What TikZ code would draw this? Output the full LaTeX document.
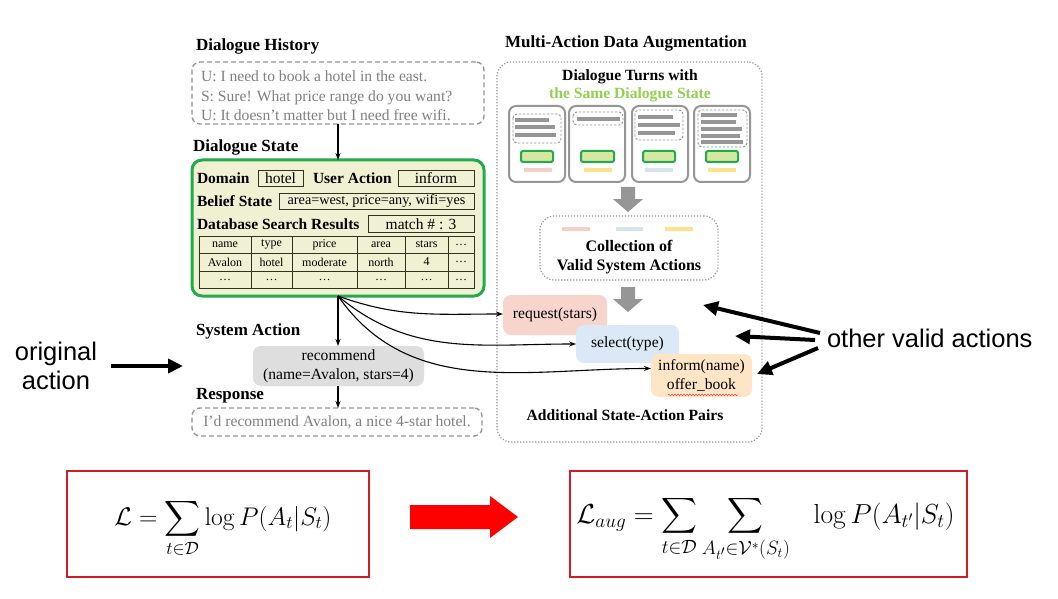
\RequirePackage{fix-cm}
\documentclass[tikz,border=0pt]{standalone}
\usepackage[no-math]{fontspec}
\setmainfont{Liberation Serif}
\setsansfont{Liberation Sans}
\usepackage{amsmath}
\usetikzlibrary{arrows.meta,decorations.pathmorphing,calc}
\definecolor{dsgreen}{RGB}{34,170,76}
\definecolor{dsfill}{RGB}{240,240,210}
\definecolor{grayline}{RGB}{150,150,150}
\definecolor{textgray}{RGB}{128,128,128}
\definecolor{recfill}{RGB}{222,222,222}
\definecolor{reqfill}{RGB}{247,213,205}
\definecolor{selfill}{RGB}{218,233,245}
\definecolor{inffill}{RGB}{253,229,198}
\definecolor{samegreen}{RGB}{146,208,80}
\definecolor{barpink}{RGB}{246,208,200}
\definecolor{baryellow}{RGB}{255,226,140}
\definecolor{barblue}{RGB}{214,226,240}
\definecolor{cardgreen}{RGB}{214,232,160}
\definecolor{boxred}{RGB}{205,30,40}
\definecolor{tabline}{RGB}{50,50,30}
\tikzset{
  bodyfont/.style={font=\fontsize{15.6}{19.5}\selectfont},
  headfont/.style={font=\bfseries\fontsize{17}{20}\selectfont},
  subheadfont/.style={font=\bfseries\fontsize{15.6}{19}\selectfont},
  lblfont/.style={font=\bfseries\fontsize{15.5}{19}\selectfont},
  cellfont/.style={font=\fontsize{12}{14}\selectfont},
  sansbig/.style={font=\sffamily\fontsize{25.5}{29}\selectfont},
  dashbox/.style={draw=grayline, line width=1.4pt, dash pattern=on 5pt off 3pt, rounded corners=8pt},
  dotbox/.style={draw=grayline, line width=1.2pt, dash pattern=on 1.2pt off 1.8pt, rounded corners=14pt},
  dsbox/.style={draw=dsgreen, fill=dsfill, line width=3pt, rounded corners=10pt},
  slotbox/.style={draw=tabline, line width=0.9pt, font=\fontsize{15.5}{19}\selectfont},
  tabrule/.style={draw=tabline, line width=0.9pt},
  conn/.style={-{Stealth[length=7pt,width=5pt]}, line width=1.1pt, black},
  bigarrow/.style={-{Triangle[length=15pt,width=14pt]}, line width=4pt, black},
  recbox/.style={fill=recfill, rounded corners=8pt, bodyfont},
  actbox/.style={rounded corners=8pt, bodyfont},
  card/.style={draw=grayline, line width=2pt, rounded corners=7pt},
  carddash/.style={draw=grayline, line width=0.9pt, dash pattern=on 2.5pt off 1.5pt, rounded corners=4pt},
  cardbar/.style={draw=grayline, line width=3.6pt},
  cardgbox/.style={draw=dsgreen, fill=cardgreen, line width=2pt, rounded corners=2pt},
  colbar/.style={line width=4pt},
  redbox/.style={draw=boxred, line width=1.1pt},
  mathnode/.style={text=black, anchor=base},
}
\begin{document}
\begin{tikzpicture}[x=1pt,y=-1pt, every node/.style={inner sep=0pt, outer sep=0pt}]
\useasboundingbox (0,0) rectangle (1058,599);
\fill[white] (0,0) rectangle (1058,599);

% ---------------- bottom formulas ----------------
\node[redbox, minimum width=302, minimum height=106] (lossbox) at (218,524) {};
\node[redbox, minimum width=397, minimum height=106] (augbox) at (768.5,524) {};
\fill[red] (410,505) -- (490,505) -- (490,496) -- (518,517) -- (490,538) -- (490,529) -- (410,529) -- cycle;
\node[mathnode, font=\fontsize{25.5}{30}\selectfont] (loss) at (223,525)
  {$\displaystyle \mathcal{L} = \sum_{t\in\mathcal{D}} \log P(A_t|S_t)$};
\node[mathnode, font=\fontsize{27.5}{32}\selectfont] (augloss) at (765.5,523)
  {$\displaystyle \mathcal{L}_{aug} = \sum_{t\in\mathcal{D}} \sum_{A_{t'}\in\mathcal{V}^*(S_t)} \hspace{0.7em}\log P(A_{t'}|S_t)$};

% ---------------- left column ----------------
\node[headfont, anchor=west] (histlbl) at (196,46) {Dialogue History};
\node[dashbox, minimum width=292, minimum height=62] (hist) at (338,93) {};
\node[bodyfont, text=textgray, anchor=west, align=left] (histtxt) at (201,96)
  {U: I need to book a hotel in the east.\\S: Sure! What price range do you want?\\U: It doesn't matter but I need free wifi.};

\node[headfont, anchor=west] (dslbl) at (193,147) {Dialogue State};
\node[dsbox, minimum width=292, minimum height=136] (ds) at (338,228) {};
\draw[conn] (hist.south) -- (ds.north);

\node[lblfont, anchor=west] (domlbl) at (197,178) {Domain};
\node[slotbox, minimum width=45, minimum height=16] (dom) at (280.5,178) {hotel};
\node[lblfont, anchor=west] (ualbl) at (313,178) {User Action};
\node[slotbox, minimum width=76, minimum height=16] (ua) at (436,178) {inform};
\node[lblfont, anchor=west] (bslbl) at (197,201) {Belief State};
\node[slotbox, minimum width=195, minimum height=16, font=\fontsize{14.2}{17}\selectfont] (bs) at (376.5,201) {area=west, price=any, wifi=yes};
\node[lblfont, anchor=west] (dblbl) at (197,224) {Database Search Results};
\node[slotbox, minimum width=106, minimum height=17] (db) at (421,224) {match \# : 3};

\draw[tabrule] (199,236) rectangle (474,288);
\foreach \yy in {253,271} \draw[tabrule] (199,\yy) -- (474,\yy);
\foreach \xx in {251,292,357,405,448} \draw[tabrule] (\xx,236) -- (\xx,288);
\foreach \cx/\txt [count=\i] in {225/name,271.5/type,324.5/price,381/area,426.5/stars,461/\dots}
  \node[cellfont] (ha\i) at (\cx,244.5) {\txt};
\foreach \cx/\txt [count=\i] in {225/Avalon,271.5/hotel,324.5/moderate,381/north,426.5/4,461/\dots}
  \node[cellfont] (hb\i) at (\cx,262) {\txt};
\foreach \cx [count=\i] in {225,271.5,324.5,381,426.5,461}
  \node[cellfont] (hc\i) at (\cx,279.5) {\dots};

\node[headfont, anchor=west] (salbl) at (196,331) {System Action};
\node[recbox, minimum width=171, minimum height=40, align=center] (rec) at (338.5,366)
  {recommend\\(name=Avalon, stars=4)};
\draw[conn] (ds.south) -- (rec.north -| ds.south);

\node[headfont, anchor=west] (resplbl) at (196,396) {Response};
\node[dashbox, minimum width=290, minimum height=28, bodyfont, text=textgray] (resp) at (337,422)
  {I'd recommend Avalon, a nice 4-star hotel.};
\draw[conn] (rec.south -| ds.south) -- (resp.north -| ds.south);

% ---------------- right column ----------------
\node[headfont, anchor=west] (malbl) at (505,43) {Multi-Action Data Augmentation};
\node[dotbox, minimum width=265, minimum height=380] (aug) at (629.5,252) {};
\node[subheadfont] (turnslbl) at (630,77) {Dialogue Turns with};
\node[subheadfont, text=samegreen] (samelbl) at (630,95) {the Same Dialogue State};

% cards
\foreach \xl in {509,569,632,694}
  \draw[card] (\xl,106) rectangle ++(56,76);
% card 1
\draw[carddash] (513,114) rectangle (561,143);
\draw[cardbar] (515,120) -- (549,120) (515,127) -- (555,127) (515,135) -- (556,135);
\draw[cardgbox] (521,151) rectangle (553,162);
\draw[colbar, barpink] (524,170) -- (552,170);
% card 2
\draw[carddash] (573,112) rectangle (623,125);
\draw[cardbar] (577,119) -- (620,119);
\draw[cardgbox] (581,151) rectangle (614,162);
\draw[colbar, baryellow] (584,170) -- (612,170);
% card 3
\draw[carddash] (635,110) rectangle (683,140);
\draw[cardbar] (638,117) -- (673,117) (638,125) -- (680,125) (638,133) -- (675,133);
\draw[cardgbox] (643,151) rectangle (675,162);
\draw[colbar, barblue] (645,170) -- (673,170);
% card 4
\draw[carddash] (698,110) rectangle (747,147);
\draw[cardbar] (701,115) -- (737,115) (701,122) -- (736,122) (701,129) -- (742,129) (701,136) -- (740,136) (701,142) -- (743,142);
\draw[cardgbox] (706,151) rectangle (738,162);
\draw[colbar, baryellow] (708,170) -- (736,170);

% gray block arrow 1
\fill[grayline] (621,187) -- (635,187) -- (635,199) -- (643,199) -- (628,212) -- (613,199) -- (621,199) -- cycle;

% collection
\node[dotbox, minimum width=178, minimum height=64] (coll) at (629,248) {};
\draw[colbar, barpink] (562,229) -- (590,229);
\draw[colbar, barblue] (616,229) -- (643,229);
\draw[colbar, baryellow] (665,229) -- (693,229);
\node[align=center, font=\bfseries\fontsize{16}{19}\selectfont] (colltxt) at (629,257.5) {Collection of\\Valid System Actions};

% gray block arrow 2
\fill[grayline] (621,287) -- (635,287) -- (635,299) -- (643,299) -- (628,312) -- (613,299) -- (621,299) -- cycle;

% action boxes
\node[actbox, fill=reqfill, minimum width=104, minimum height=40] (req) at (555,315) {request(stars)};
\node[actbox, fill=selfill, minimum width=103, minimum height=38] (sel) at (627.5,344) {select(type)};
\node[actbox, fill=inffill, minimum width=101, minimum height=43, align=center] (inf) at (701.5,375.5) {inform(name)\\offer\_book};
\draw[red!75, line width=0.6pt, decorate, decoration={snake, amplitude=0.7pt, segment length=3pt}] (668,395) -- (738,395);

\node[subheadfont] (addlbl) at (625,415) {Additional State-Action Pairs};

% curved connectors
\draw[conn] (ds.south) to[out=-20, in=180] ($(req.west)+(0,-1)$);
\draw[conn] (ds.south) to[out=-40, in=180] (sel.west);
\draw[conn] (ds.south) to[out=-55, in=180] ($(inf.west)+(0,-7)$);

% ---------------- annotations ----------------
\node[sansbig, align=center] (orig) at (56,366) {original\\action};
\coordinate (origtip) at (183,366);
\draw[bigarrow] (orig.east) ++(14,0) -- (origtip);

\node[sansbig, anchor=west] (other) at (827,338) {other valid actions};
\coordinate (t1) at (703,305);
\coordinate (t2) at (735,336);
\coordinate (t3) at (757,374);
\draw[bigarrow] ($(other.west)+(-7,-5)$) -- (t1);
\draw[bigarrow] ($(other.west)+(-12,2)$) -- (t2);
\draw[bigarrow] ($(other.west)+(-9,10)$) -- (t3);
\end{tikzpicture}
\end{document}
